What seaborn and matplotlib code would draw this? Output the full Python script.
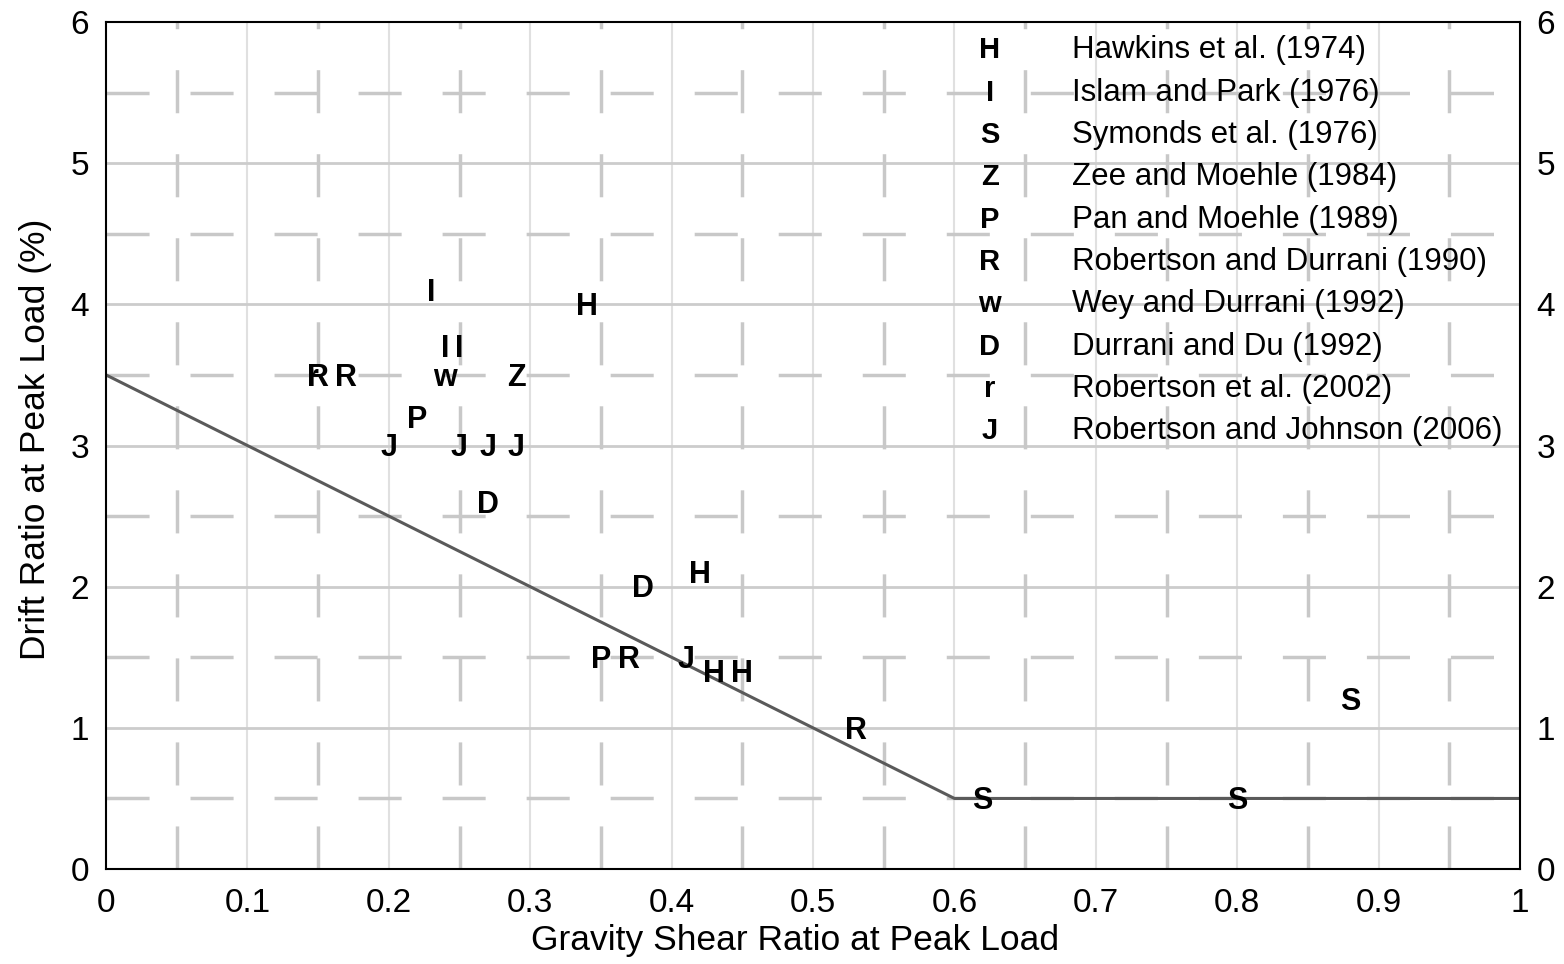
import numpy as np
import pandas as pd
import seaborn as sns
import matplotlib.pyplot as plt

# specimen letters and their positions
letters = ["H", "I", "I", "I", "r", "R", "R", "w", "Z", "P", "J", "J", "J", "J",
           "D", "D", "H", "P", "R", "J", "H", "H", "R", "S", "S", "S"]
shear = [0.34, 0.23, 0.24, 0.25, 0.146, 0.15, 0.17, 0.24, 0.29, 0.22, 0.20, 0.25, 0.27, 0.29,
         0.27, 0.38, 0.42, 0.35, 0.37, 0.41, 0.43, 0.45, 0.53, 0.62, 0.80, 0.88]
drift = [4.0, 4.1, 3.7, 3.7, 3.5, 3.5, 3.5, 3.5, 3.5, 3.2, 3.0, 3.0, 3.0, 3.0,
         2.6, 2.0, 2.1, 1.5, 1.5, 1.5, 1.4, 1.4, 1.0, 0.5, 0.5, 1.2]

# limit line
line_x = [0, 0.6, 1.0]
line_y = [3.5, 0.5, 0.5]

# legend
key_letters = ["H", "I", "S", "Z", "P", "R", "w", "D", "r", "J"]
key_labels = ["Hawkins et al. (1974)", "Islam and Park (1976)", "Symonds et al. (1976)",
              "Zee and Moehle (1984)", "Pan and Moehle (1989)", "Robertson and Durrani (1990)",
              "Wey and Durrani (1992)", "Durrani and Du (1992)", "Robertson et al. (2002)",
              "Robertson and Johnson (2006)"]

x_ticks = [0, 0.1, 0.2, 0.3, 0.4, 0.5, 0.6, 0.7, 0.8, 0.9, 1]
x_ticklabels = ["0", "0.1", "0.2", "0.3", "0.4", "0.5", "0.6", "0.7", "0.8", "0.9", "1"]
y_ticks = [0, 1, 2, 3, 4, 5, 6]

sns.set_theme(style="white")
plt.rcParams['font.family'] = ['Liberation Sans', 'DejaVu Sans']
plt.rcParams['lines.scale_dashes'] = False
plt.rcParams['text.color'] = 'black'
plt.rcParams['axes.labelcolor'] = 'black'
plt.rcParams['xtick.color'] = 'black'
plt.rcParams['ytick.color'] = 'black'

fig = plt.figure(figsize=(15.64, 9.64), dpi=100)
ax = fig.add_axes([0.0678, 0.0985, 0.9041, 0.8787])

# grid
for xv in np.arange(0.1, 1.0, 0.1):
    ax.axvline(xv, color="#e0e0e0", lw=1.5, zorder=0)
for yv in range(1, 6):
    ax.axhline(yv, color="#cccccc", lw=2, zorder=0)
for xv in np.arange(0.05, 1.0, 0.1):
    ax.plot([xv, xv], [0, 6], color="#c8c8c8", lw=2.5, dashes=(31, 29.5), zorder=0)
for yv in np.arange(0.5, 6.0, 1.0):
    ax.plot([0, 1], [yv, yv], color="#c8c8c8", lw=2.5, dashes=(31, 29.5), zorder=0)

df_line = pd.DataFrame({"x": line_x, "y": line_y})
sns.lineplot(data=df_line, x="x", y="y", color="#5a5a5a", lw=2.2, ax=ax, zorder=2)

for lt, xv, yv in zip(letters, shear, drift):
    ax.annotate(lt, (xv, yv), xytext=(0, -2), textcoords="offset points",
                ha="center", va="center", fontsize=22, fontweight="bold",
                color="black", zorder=3)

for i, (lt, lab) in enumerate(zip(key_letters, key_labels)):
    yv = 5.8 - 0.3 * i
    ax.text(0.625, yv, lt, ha="center", va="center", fontsize=21, fontweight="bold",
            color="black", zorder=3)
    ax.text(0.683, yv, lab, ha="left", va="center", fontsize=22.5, color="black", zorder=3)

ax.set_xlim(0, 1)
ax.set_ylim(0, 6)
ax.set_xticks(x_ticks)
ax.set_xticklabels(x_ticklabels)
ax.set_yticks(y_ticks)
ax.tick_params(axis="both", labelsize=24, length=0)
ax.tick_params(axis="x", pad=14)
ax.tick_params(axis="y", pad=12, labelright=True)
ax.set_xlabel("Gravity Shear Ratio at Peak Load", fontsize=25.5)
ax.set_ylabel("Drift Ratio at Peak Load (%)", fontsize=25.5)
ax.xaxis.set_label_coords(0.487, -0.065)
ax.yaxis.set_label_coords(-0.038, 0.507)
for sp in ax.spines.values():
    sp.set_color("black")
    sp.set_linewidth(1.5)

plt.savefig("out.png", dpi=100)
